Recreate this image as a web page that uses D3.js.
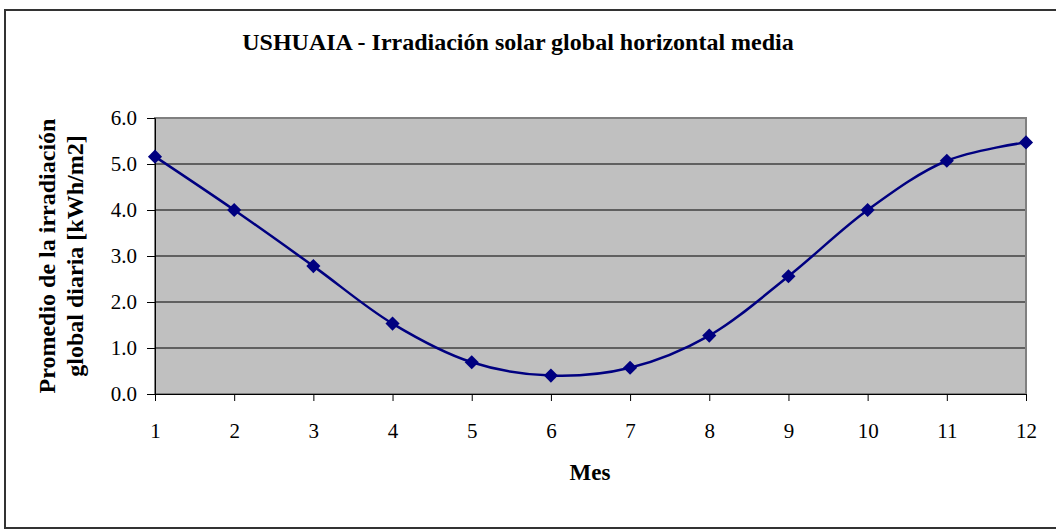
<!DOCTYPE html>
<html>
<head>
<meta charset="utf-8">
<script src="https://cdn.jsdelivr.net/npm/d3@7"></script>
<style>
  body { margin: 0; background: #fff; }
  svg { display: block; font-family: "Liberation Serif", "Times New Roman", serif; }
</style>
</head>
<body>
<svg id="chart" width="1056" height="530"></svg>
<script>
// datos
const meses = [1, 2, 3, 4, 5, 6, 7, 8, 9, 10, 11, 12];
const irradiacion = [5.16, 4.0, 2.78, 1.53, 0.69, 0.40, 0.57, 1.27, 2.56, 4.0, 5.07, 5.47];
const yTicks = [0, 1, 2, 3, 4, 5, 6];

const svg = d3.select("#chart");
const plotLeft = 155, plotRight = 1026, plotTop = 118, plotBottom = 394;

// marco exterior
svg.append("rect")
    .attr("x", 5).attr("y", 10)
    .attr("width", 1060).attr("height", 518)
    .attr("fill", "#fff")
    .attr("stroke", "#333").attr("stroke-width", 2);

const x = d3.scaleLinear().domain([1, 12]).range([plotLeft, plotRight]);
const y = d3.scaleLinear().domain([0, 6]).range([plotBottom, plotTop]);

// area del grafico
svg.append("rect")
    .attr("x", plotLeft).attr("y", plotTop)
    .attr("width", plotRight - plotLeft).attr("height", plotBottom - plotTop)
    .attr("fill", "#c0c0c0");

// lineas de division
svg.append("g")
    .selectAll("line")
    .data(yTicks.slice(1, -1))
    .join("line")
    .attr("x1", plotLeft).attr("x2", plotRight)
    .attr("y1", d => y(d)).attr("y2", d => y(d))
    .attr("stroke", "#000").attr("stroke-width", 1);

svg.append("rect")
    .attr("x", plotLeft).attr("y", plotTop)
    .attr("width", plotRight - plotLeft).attr("height", plotBottom - plotTop)
    .attr("fill", "none")
    .attr("stroke", "#808080").attr("stroke-width", 2);

// ejes
const xAxis = svg.append("g")
    .attr("transform", `translate(0,${plotBottom})`)
    .call(d3.axisBottom(x).tickValues(meses).tickFormat(d3.format("d")).tickSize(7).tickPadding(22));
const yAxis = svg.append("g")
    .attr("transform", `translate(${plotLeft},0)`)
    .call(d3.axisLeft(y).tickValues(yTicks).tickFormat(d3.format(".1f")).tickSize(8).tickPadding(10));

[xAxis, yAxis].forEach(a => {
    a.select(".domain").attr("stroke", "#000").attr("stroke-width", 1);
    a.selectAll(".tick line").attr("stroke", "#000");
    a.selectAll("text").attr("font-family", "Liberation Serif, serif").attr("font-size", 21).attr("fill", "#000");
});
xAxis.selectAll("text").attr("dy", 0).attr("y", 44);

// linea suavizada
const linea = d3.line()
    .x((d, i) => x(meses[i]))
    .y(d => y(d))
    .curve(d3.curveCatmullRom.alpha(0.5));

svg.append("path")
    .datum(irradiacion)
    .attr("d", linea)
    .attr("fill", "none")
    .attr("stroke", "#000080")
    .attr("stroke-width", 2.5);

svg.append("g")
    .selectAll("path")
    .data(irradiacion)
    .join("path")
    .attr("d", d3.symbol(d3.symbolSquare, 100))
    .attr("transform", (d, i) => `translate(${x(meses[i])},${y(d)}) rotate(45)`)
    .attr("fill", "#000080");

// textos
svg.append("text")
    .attr("x", 518).attr("y", 50)
    .attr("text-anchor", "middle")
    .attr("font-weight", "bold").attr("font-size", 24)
    .text("USHUAIA - Irradiación solar global horizontal media");

svg.append("text")
    .attr("x", 590).attr("y", 480)
    .attr("text-anchor", "middle")
    .attr("font-weight", "bold").attr("font-size", 23)
    .text("Mes");

const ylab = svg.append("text")
    .attr("transform", "translate(0,256) rotate(-90)")
    .attr("text-anchor", "middle")
    .attr("font-weight", "bold").attr("font-size", 24);
ylab.append("tspan").attr("x", 0).attr("y", 55).text("Promedio de la irradiación");
ylab.append("tspan").attr("x", 0).attr("y", 83).text("global diaria [kWh/m2]");
</script>
</body>
</html>
